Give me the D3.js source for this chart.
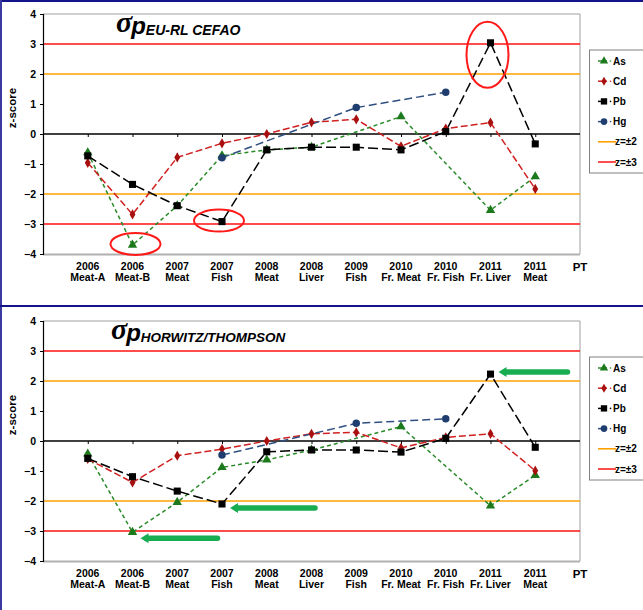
<!DOCTYPE html>
<html>
<head>
<meta charset="utf-8">
<script src="https://cdn.jsdelivr.net/npm/d3@7"></script>
<style>
  html, body { margin: 0; padding: 0; background: #fff; }
  svg { display: block; }
  text { font-family: "Liberation Sans", Arial, sans-serif; font-weight: bold; fill: #000; }
</style>
</head>
<body>
<svg id="chart" width="643" height="610"></svg>
<script>
// Proficiency-test rounds (two-line labels)
const categories = [
  ["2006", "Meat-A"], ["2006", "Meat-B"], ["2007", "Meat"], ["2007", "Fish"],
  ["2008", "Meat"], ["2008", "Liver"], ["2009", "Fish"], ["2010", "Fr. Meat"],
  ["2010", "Fr. Fish"], ["2011", "Fr. Liver"], ["2011", "Meat"]
];
const yTicks = [4, 3, 2, 1, 0, -1, -2, -3, -4];

// z-scores computed with sigma_p from EU-RL CEFAO
const asEU = [-0.62, -3.7, -2.39, -0.72, -0.53, -0.44, null, 0.58, null, -2.54, -1.42];
const cdEU = [-0.96, -2.68, -0.78, -0.31, 0.0, 0.39, 0.49, -0.41, 0.18, 0.38, -1.83];
const pbEU = [-0.73, -1.68, -2.39, -2.92, -0.53, -0.44, -0.44, -0.53, 0.08, 3.04, -0.33];
const hgEU = [null, null, null, -0.79, null, null, 0.88, null, 1.39, null, null];

// z-scores computed with sigma_p from Horwitz/Thompson
const asHT = [-0.43, -3.04, -2.04, -0.88, -0.63, -0.3, null, 0.48, null, -2.16, -1.14];
const cdHT = [-0.6, -1.38, -0.49, -0.27, 0.0, 0.24, 0.29, -0.23, 0.12, 0.24, -0.99];
const pbHT = [-0.58, -1.19, -1.67, -2.1, -0.36, -0.3, -0.3, -0.37, 0.09, 2.23, -0.21];
const hgHT = [null, null, null, -0.47, null, null, 0.59, null, 0.74, null, null];

const seriesStyle = [
  { key: "As", line: "#2a8a2a", fill: "#1c7a1c", dash: "4,3", shape: d3.symbolTriangle, size: 38 },
  { key: "Cd", line: "#d02020", fill: "#a81010", dash: "7,3", shape: d3.symbolDiamond, size: 30 },
  { key: "Pb", line: "#000000", fill: "#000000", dash: "10,4", shape: d3.symbolSquare, size: 50 },
  { key: "Hg", line: "#2f4f80", fill: "#1f3d6e", dash: "8,4", shape: d3.symbolCircle, size: 44 }
];

const svg = d3.select("#chart");
svg.append("rect").attr("width", 643).attr("height", 610).attr("fill", "#fff");

// Panel frames
const navy = "#14148a";
svg.append("line").attr("x1", 0).attr("x2", 643).attr("y1", 1).attr("y2", 1).attr("stroke", navy).attr("stroke-width", 2);
svg.append("line").attr("x1", 1).attr("x2", 1).attr("y1", 0).attr("y2", 610).attr("stroke", "#3a3aa0").attr("stroke-width", 2);
svg.append("line").attr("x1", 0).attr("x2", 643).attr("y1", 306).attr("y2", 306).attr("stroke", navy).attr("stroke-width", 2.2);

const catKeys = categories.map(c => c.join(" "));
const x = d3.scalePoint().domain(["", ...catKeys, "PT"]).range([43, 580]);

function drawPanel(top, titleSub, titleX, subSize, data, notes) {
  const y = d3.scaleLinear().domain([-4, 4]).range([top + 240, top]);
  const g = svg.append("g");

  // plot area border
  g.append("line").attr("x1", 43).attr("x2", 580).attr("y1", y(4)).attr("y2", y(4)).attr("stroke", "#a0a0a0");
  g.append("line").attr("x1", 580).attr("x2", 580).attr("y1", y(4)).attr("y2", y(-4)).attr("stroke", "#a0a0a0");
  g.append("line").attr("x1", 43).attr("x2", 580).attr("y1", y(-4) + 0.5).attr("y2", y(-4) + 0.5).attr("stroke", "#b0b0b0").attr("stroke-width", 2);

  // reference limits
  [[2, "#ffa000"], [-2, "#ffa000"], [3, "#ff1010"], [-3, "#ff1010"]].forEach(([v, c]) => {
    g.append("line").attr("x1", 43).attr("x2", 580).attr("y1", y(v)).attr("y2", y(v))
      .attr("stroke", c).attr("stroke-width", 1.6);
  });

  // y axis
  const yAxis = d3.axisLeft(y).tickValues(yTicks).tickSize(3).tickFormat(d3.format("d"));
  const ya = g.append("g").attr("transform", "translate(43,0)").call(yAxis);
  ya.select(".domain").attr("stroke", "#000").attr("stroke-width", 1.2);
  ya.selectAll(".tick line").attr("stroke", "#000");
  ya.selectAll(".tick text").attr("x", -7).attr("font-size", 10.5).attr("font-weight", "bold")
    .attr("font-family", "Liberation Sans, Arial, sans-serif").attr("fill", "#000");

  // category axis crossing at zero
  const xAxis = d3.axisBottom(x).tickValues(catKeys).tickSize(3).tickFormat("");
  const xa = g.append("g").attr("transform", `translate(0,${y(0)})`).call(xAxis);
  xa.select(".domain").remove();
  xa.selectAll(".tick line").attr("stroke", "#000");
  g.append("line").attr("x1", 43).attr("x2", 580).attr("y1", y(0)).attr("y2", y(0)).attr("stroke", "#000").attr("stroke-width", 1.4);

  // category labels below the plot
  categories.forEach((c, i) => {
    const t = g.append("text").attr("x", x(catKeys[i])).attr("text-anchor", "middle").attr("font-size", 10.5);
    t.append("tspan").attr("x", x(catKeys[i])).attr("y", y(-4) + 16).text(c[0]);
    t.append("tspan").attr("x", x(catKeys[i])).attr("y", y(-4) + 27).text(c[1]);
  });
  g.append("text").attr("x", x("PT")).attr("y", y(-4) + 17).attr("text-anchor", "middle").attr("font-size", 11.5).text("PT");

  // y-axis title
  g.append("text").attr("transform", `translate(16,${top + 94}) rotate(-90)`).attr("text-anchor", "middle")
    .attr("font-size", 11.5).text("z-score");

  // title sigma_p
  const tt = g.append("text").attr("x", titleX).attr("y", top + 18);
  tt.append("tspan").attr("font-family", "Liberation Serif, serif").attr("font-style", "italic").attr("font-weight", "bold")
    .attr("font-size", 30).text("σ");
  tt.append("tspan").attr("font-style", "italic").attr("font-weight", "bold").attr("font-size", 24).attr("dx", -1).attr("dy", 2).text("p");
  tt.append("tspan").attr("font-style", "italic").attr("font-size", subSize).attr("dy", 1).text(titleSub);

  // series lines and markers
  seriesStyle.forEach((s, si) => {
    const pts = data[si].map((v, i) => ({ k: catKeys[i], v })).filter(d => d.v !== null);
    const line = d3.line().x(d => x(d.k)).y(d => y(d.v));
    g.append("path").datum(pts).attr("d", line).attr("fill", "none").attr("stroke", s.line)
      .attr("stroke-width", 1.5).attr("stroke-dasharray", s.dash);
  });
  seriesStyle.forEach((s, si) => {
    const pts = data[si].map((v, i) => ({ k: catKeys[i], v })).filter(d => d.v !== null);
    g.selectAll(null).data(pts).enter().append("path")
      .attr("d", d3.symbol().type(s.shape).size(s.size))
      .attr("transform", d => `translate(${x(d.k)},${y(d.v)})`)
      .attr("fill", s.fill);
  });

  // legend
  const lg = g.append("g");
  const lTop = top + 36;
  lg.append("rect").attr("x", 589.5).attr("y", lTop).attr("width", 60).attr("height", 123)
    .attr("fill", "#fff").attr("stroke", "#808080");
  const items = seriesStyle.map(s => ({ label: s.key, s }))
    .concat([{ label: "z=±2", c: "#ffa000" }, { label: "z=±3", c: "#ff2020" }]);
  items.forEach((it, i) => {
    const ly = lTop + 11 + i * 20.2;
    if (it.s) {
      lg.append("line").attr("x1", 598).attr("x2", 607).attr("y1", ly).attr("y2", ly).attr("stroke", it.s.line).attr("stroke-width", 1.5);
      lg.append("path").attr("d", d3.symbol().type(it.s.shape).size(it.s.size * 0.8))
        .attr("transform", `translate(604,${ly})`).attr("fill", it.s.fill);
      lg.append("circle").attr("cx", 610.5).attr("cy", ly).attr("r", 0.8).attr("fill", it.s.line);
      lg.append("text").attr("x", 613).attr("y", ly + 3.6).attr("font-size", 10).text(it.label);
    } else {
      lg.append("line").attr("x1", 598).attr("x2", 616).attr("y1", ly).attr("y2", ly).attr("stroke", it.c).attr("stroke-width", 1.6);
      lg.append("text").attr("x", 615).attr("y", ly + 3.6).attr("font-size", 10).text(it.label);
    }
  });

  notes(g, y);
}

// Red rings around out-of-range results
function ringsEU(g, y) {
  const rings = [
    { k: catKeys[1], v: asEU[1], dx: 3, dy: -1, rx: 25, ry: 11 },
    { k: catKeys[3], v: pbEU[3], dx: -3, dy: -1, rx: 25, ry: 11 },
    { k: catKeys[9], v: pbEU[9], dx: -3, dy: 12, rx: 21, ry: 33 }
  ];
  g.selectAll(null).data(rings).enter().append("ellipse")
    .attr("cx", d => x(d.k) + d.dx).attr("cy", d => y(d.v) + d.dy)
    .attr("rx", d => d.rx).attr("ry", d => d.ry)
    .attr("fill", "none").attr("stroke", "#ff1a1a").attr("stroke-width", 2);
}

// Green arrows pointing at the flagged results
function arrowsHT(g, y) {
  const arrows = [
    { k: catKeys[9], v: pbHT[9], dy: -2, len: 69 },
    { k: catKeys[3], v: pbHT[3], dy: 4, len: 85 },
    { k: catKeys[1], v: asHT[1], dy: 6, len: 77 }
  ];
  const green = "#19ad52";
  arrows.forEach(a => {
    const tx = x(a.k) + 8, ty = y(a.v) + a.dy;
    g.append("line").attr("x1", tx + 6).attr("x2", tx + a.len).attr("y1", ty).attr("y2", ty)
      .attr("stroke", green).attr("stroke-width", 5.5).attr("stroke-linecap", "round");
    g.append("path").attr("d", `M${tx},${ty} L${tx + 8},${ty - 5} L${tx + 8},${ty + 5} Z`).attr("fill", green);
  });
}

drawPanel(14, "EU-RL CEFAO", 116, 14, [asEU, cdEU, pbEU, hgEU], ringsEU);
drawPanel(321, "HORWITZ/THOMPSON", 111, 13.5, [asHT, cdHT, pbHT, hgHT], arrowsHT);
</script>
</body>
</html>
